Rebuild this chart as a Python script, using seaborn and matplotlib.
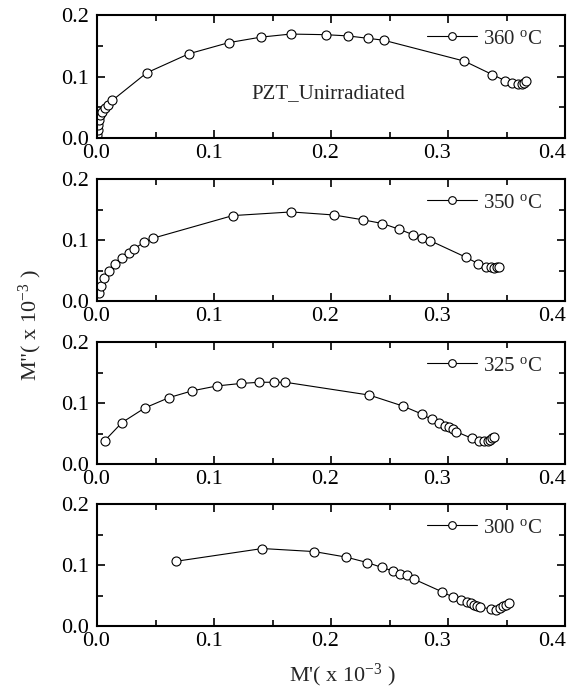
import matplotlib
matplotlib.use("Agg")
import matplotlib.pyplot as plt
import matplotlib.transforms as mtransforms
import seaborn as sns
import numpy as np
from matplotlib.ticker import MultipleLocator

# ---------------- data (M' , M'' in units of 1e-3) ----------------
x360 = [0.0003, 0.0006, 0.0010, 0.0018, 0.0028, 0.0045, 0.0068, 0.0097, 0.0130,
        0.0425, 0.0786, 0.1125, 0.1400, 0.1655, 0.1954, 0.2145, 0.2319, 0.2450,
        0.3140, 0.3380, 0.3490, 0.3550, 0.3600, 0.3630, 0.3650, 0.3670]
y360 = [0.005, 0.013, 0.021, 0.029, 0.037, 0.043, 0.048, 0.054, 0.061,
        0.106, 0.137, 0.155, 0.164, 0.169, 0.168, 0.166, 0.162, 0.159,
        0.125, 0.103, 0.093, 0.089, 0.087, 0.088, 0.090, 0.093]

x350 = [0.0017, 0.0030, 0.0062, 0.0103, 0.0154, 0.0210, 0.0270, 0.0320, 0.0400,
        0.0480, 0.1160, 0.1660, 0.2026, 0.2276, 0.2440, 0.2577, 0.2697, 0.2780,
        0.2846, 0.3150, 0.3260, 0.3325, 0.3365, 0.3390, 0.3417, 0.3436]
y350 = [0.013, 0.025, 0.038, 0.050, 0.061, 0.071, 0.079, 0.086, 0.096,
        0.103, 0.140, 0.146, 0.141, 0.133, 0.127, 0.118, 0.109, 0.104,
        0.099, 0.072, 0.061, 0.056, 0.055, 0.054, 0.055, 0.056]

x325 = [0.0065, 0.0214, 0.0410, 0.0618, 0.0815, 0.1026, 0.1228, 0.1387, 0.1513,
        0.1610, 0.2327, 0.2615, 0.2775, 0.2860, 0.2926, 0.2974, 0.3010, 0.3040,
        0.3070, 0.3205, 0.3262, 0.3305, 0.3340, 0.3360, 0.3380, 0.3395]
y325 = [0.038, 0.068, 0.092, 0.109, 0.120, 0.128, 0.132, 0.134, 0.134,
        0.134, 0.113, 0.095, 0.082, 0.073, 0.067, 0.063, 0.060, 0.057,
        0.053, 0.042, 0.038, 0.037, 0.038, 0.039, 0.042, 0.045]

x300 = [0.0673, 0.1413, 0.1857, 0.2128, 0.2310, 0.2435, 0.2533, 0.2590, 0.2647,
        0.2707, 0.2950, 0.3047, 0.3110, 0.3160, 0.3195, 0.3222, 0.3248, 0.3274,
        0.3365, 0.3410, 0.3444, 0.3473, 0.3496, 0.3519]
y300 = [0.106, 0.127, 0.122, 0.113, 0.104, 0.096, 0.090, 0.086, 0.083,
        0.077, 0.056, 0.047, 0.042, 0.039, 0.037, 0.035, 0.033, 0.031,
        0.028, 0.027, 0.029, 0.032, 0.034, 0.037]

series_labels = ["360 $^{\\mathregular{o}}$C", "350 $^{\\mathregular{o}}$C",
                 "325 $^{\\mathregular{o}}$C", "300 $^{\\mathregular{o}}$C"]
x_ticklabels = ["0.0", "0.1", "0.2", "0.3", "0.4"]
y_ticklabels = ["0.0", "0.1", "0.2"]
annotation = "PZT_Unirradiated"
xlabel = "M'( x 10$^{\\mathregular{-3}}$ )"
ylabel = 'M"( x 10$^{\\mathregular{-3}}$ )'

# ---------------- style ----------------
sns.set_theme(style="ticks")
plt.rcParams["font.family"] = ["Liberation Serif", "DejaVu Serif"]
plt.rcParams["mathtext.fontset"] = "custom"
plt.rcParams["mathtext.rm"] = "Liberation Serif"
plt.rcParams["mathtext.it"] = "Liberation Serif:italic"
plt.rcParams["mathtext.bf"] = "Liberation Serif:bold"

FS = 15
FS_TICK = 16
FS_LAB = 16
W, H = 571, 691
fig = plt.figure(figsize=(W / 100, H / 100), dpi=100)

# panel pixel boxes (top, bottom)
boxes = [(15, 138), (179, 301), (342, 464), (504, 626)]
left_px, right_px = 97, 565
# horizontal shift (px) of x tick labels, as in the reference
xlabel_shift = [-1, -5, -6, -11, -13]

data = [(x360, y360), (x350, y350), (x325, y325), (x300, y300)]

for i, ((top, bot), (xs, ys), lab) in enumerate(zip(boxes, data, series_labels)):
    ax = fig.add_axes([left_px / W, 1 - bot / H, (right_px - left_px) / W, (bot - top) / H])
    sns.lineplot(x=xs, y=ys, ax=ax, sort=False, estimator=None,
                 color="black", linewidth=0.8, marker="o", markersize=6.5,
                 markerfacecolor="white", markeredgecolor="black",
                 markeredgewidth=0.8, label=lab)
    ax.set_xlim(0, 0.4)
    ax.set_ylim(0, 0.2)
    ax.xaxis.set_minor_locator(MultipleLocator(0.05))
    ax.yaxis.set_minor_locator(MultipleLocator(0.05))
    ax.set_xticks(np.arange(0, 0.41, 0.1))
    ax.set_xticklabels(x_ticklabels)
    ax.set_yticks(np.arange(0, 0.21, 0.1))
    ax.set_yticklabels(y_ticklabels)
    ax.tick_params(which="both", direction="in", top=True, right=True,
                   width=1.2, colors="black")
    ax.tick_params(which="major", length=5.5, labelsize=FS_TICK)
    ax.tick_params(which="minor", length=4.5)
    ax.tick_params(axis="x", which="major", pad=4)
    ax.tick_params(axis="y", which="major", pad=6)
    for lbl, dx in zip(ax.get_xticklabels(), xlabel_shift):
        lbl.set_transform(lbl.get_transform() +
                          mtransforms.ScaledTranslation(dx / 100, 0, fig.dpi_scale_trans))
    for sp in ax.spines.values():
        sp.set_linewidth(1.5)
        sp.set_color("black")
    ax.set_xlabel("")
    ax.set_ylabel("")
    ax.legend(loc="center left", bbox_to_anchor=(0.706, 0.805),
              frameon=False, fontsize=FS, handlelength=2.4,
              handletextpad=0.25, borderpad=0, borderaxespad=0,
              markerscale=0.85)
    if i == 0:
        ax.text(0.132, 0.073, annotation, fontsize=FS, va="center", ha="left")

fig.text(343 / W, 1 - 675 / H, xlabel, fontsize=FS_LAB, ha="center", va="center")
fig.text(30 / W, 1 - 325 / H, ylabel, fontsize=FS_LAB, ha="center", va="center",
         rotation=90)

fig.savefig("out.png", dpi=100)
